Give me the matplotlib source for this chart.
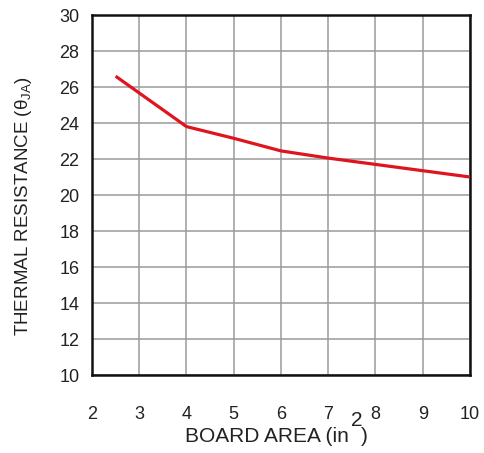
import matplotlib
matplotlib.use("Agg")
import matplotlib.pyplot as plt

plt.rcParams["font.family"] = ["Liberation Sans", "DejaVu Sans"]
plt.rcParams["mathtext.fontset"] = "custom"
plt.rcParams["mathtext.rm"] = "Liberation Sans"
plt.rcParams["mathtext.it"] = "Liberation Sans:italic"

# Thermal resistance vs. board area
board_area = [2.5, 4.0, 5.0, 6.0, 7.0, 8.0, 9.0, 10.0]
theta_ja = [26.6, 23.8, 23.15, 22.45, 22.05, 21.7, 21.35, 21.0]

x_ticks = [2, 3, 4, 5, 6, 7, 8, 9, 10]
y_ticks = [10, 12, 14, 16, 18, 20, 22, 24, 26, 28, 30]

W, H = 485, 453
fig = plt.figure(figsize=(W / 100, H / 100), dpi=100)
fig.patch.set_facecolor("white")

L, R, T, B = 92, 470, 15, 375
ax = fig.add_axes([L / W, 1 - B / H, (R - L) / W, (B - T) / H])

ax.plot(board_area, theta_ja, color="#e0141e", lw=2.3, solid_capstyle="butt",
        zorder=3)

ax.set_xlim(2, 10)
ax.set_ylim(10, 30)
ax.set_xticks(x_ticks)
ax.set_yticks(y_ticks)
ax.set_xticklabels([str(v) for v in x_ticks], fontsize=13, color="#222222")
ax.set_yticklabels([str(v) for v in y_ticks], fontsize=13, color="#222222")
ax.tick_params(axis="both", length=0)
ax.tick_params(axis="x", pad=22)
ax.tick_params(axis="y", pad=9)

ax.grid(True, color="#9a9a9a", lw=1.1)
ax.set_axisbelow(True)
for s in ax.spines.values():
    s.set_color("#111111")
    s.set_linewidth(1.8)

def fx(px):
    return px / W

def fy(py):
    return 1 - py / H

fig.text(fx(24), fy(206), r"THERMAL RESISTANCE ($\mathregular{\theta_{JA}}$)",
         rotation=90, ha="center", va="center", fontsize=13.5, color="#222222")

fig.text(fx(349), fy(442), "BOARD AREA (in", ha="right", va="baseline",
         fontsize=15, color="#222222")
fig.text(fx(357), fy(421), "2", ha="center", va="center",
         fontsize=15, color="#222222")
fig.text(fx(361), fy(442), ")", ha="left", va="baseline",
         fontsize=15, color="#222222")

fig.savefig("out.png", dpi=100)
